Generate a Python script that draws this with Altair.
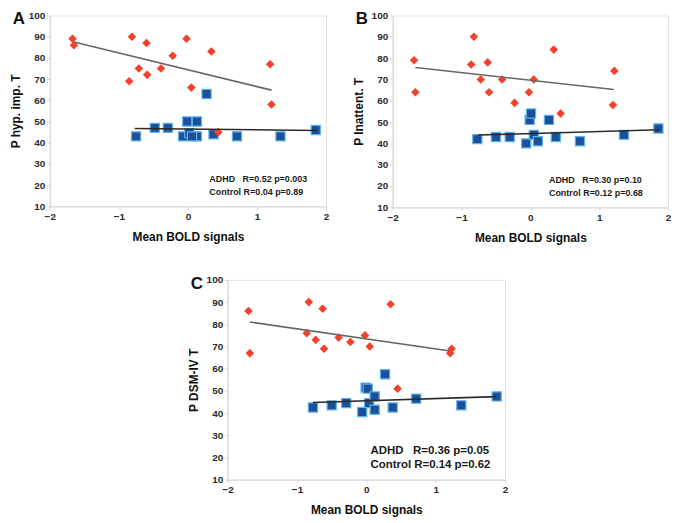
import altair as alt
import pandas as pd

# ---------------- data ----------------
# Panel A: P hyp. imp. T
A_adhd_x = [-1.67, -1.65, -0.81, -0.60, -0.85, -0.71, -0.59, -0.39, -0.22, -0.02, 0.05, 0.34, 1.19, 1.21, 0.44]
A_adhd_y = [89, 86, 90, 87, 69, 75, 72, 75, 81, 89, 66, 83, 77, 58, 45]
A_ctrl_x = [-0.75, -0.48, -0.29, -0.01, 0.13, -0.07, 0.02, 0.13, 0.27, 0.37, 0.71, 1.34, 1.85, 0.06]
A_ctrl_y = [43, 47, 47, 50, 50, 43, 44.5, 43, 63, 44, 43, 43, 46, 43]
A_adhd_fit_x = [-1.65, 1.21]
A_adhd_fit_y = [87.5, 64.8]
A_ctrl_fit_x = [-0.77, 1.87]
A_ctrl_fit_y = [46.7, 45.8]
A_stats = ["ADHD\u00a0\u00a0 R=0.52 p=0.003", "Control R=0.04 p=0.89"]

# Panel B: P Inattent. T
B_adhd_x = [-1.69, -1.67, -0.82, -0.86, -0.62, -0.72, -0.60, -0.41, -0.23, -0.02, 0.05, 0.34, 1.22, 1.20, 0.44]
B_adhd_y = [79, 64, 90, 77, 78, 70, 64, 70, 59, 64, 70, 84, 74, 58, 54]
B_ctrl_x = [-0.77, -0.50, -0.30, -0.06, -0.01, 0.01, 0.05, 0.11, 0.27, 0.37, 0.72, 1.36, 1.86]
B_ctrl_y = [42, 43, 43, 40, 51, 54, 44, 41, 51, 43, 41, 44, 47]
B_adhd_fit_x = [-1.67, 1.21]
B_adhd_fit_y = [75.6, 65.3]
B_ctrl_fit_x = [-0.76, 1.87]
B_ctrl_fit_y = [43.9, 46.4]
B_stats = ["ADHD\u00a0\u00a0 R=0.30 p=0.10", "Control R=0.12 p=0.68"]

# Panel C: P DSM-IV T
C_adhd_x = [-1.70, -1.68, -0.83, -0.63, -0.86, -0.73, -0.61, -0.40, -0.23, -0.02, 0.05, 0.35, 1.23, 1.21, 0.45]
C_adhd_y = [86, 67, 90, 87, 76, 73, 69, 74, 72, 75, 70, 89, 69, 67, 51]
C_ctrl_x = [-0.77, -0.50, -0.29, -0.06, -0.01, 0.02, 0.04, 0.12, 0.12, 0.27, 0.38, 0.72, 1.37, 1.88]
C_ctrl_y = [42.5, 43.5, 44.5, 40.5, 51.5, 51, 44.5, 41.5, 47.5, 57.5, 42.5, 46.5, 43.5, 47.5]
C_adhd_fit_x = [-1.68, 1.21]
C_adhd_fit_y = [81.0, 68.0]
C_ctrl_fit_x = [-0.77, 1.87]
C_ctrl_fit_y = [44.8, 47.4]
C_stats = ["ADHD\u00a0\u00a0 R=0.36 p=0.05", "Control R=0.14 p=0.62"]

x_ticks = [-2, -1, 0, 1, 2]
y_ticks = [10, 20, 30, 40, 50, 60, 70, 80, 90, 100]

FONT = "Liberation Sans"
RED = "#f5412b"
BLUE = "#1c4f9c"
BLUE_EDGE = "#5ab4e6"
LINE = "#666666"


def panel(letter, ytitle, ax, ay, cx, cy, afx, afy, cfx, cfy, stats, stats_x, stats_y, stats_size, w, h):
    xs = alt.Scale(domain=[-2, 2], nice=False, zero=False)
    ys = alt.Scale(domain=[10, 100], nice=False, zero=False)
    xenc = alt.X("x:Q", scale=xs,
                 axis=alt.Axis(values=x_ticks, title="Mean BOLD signals", format="d",
                               titlePadding=10, labelOverlap=False))
    yenc = alt.Y("y:Q", scale=ys,
                 axis=alt.Axis(values=y_ticks, title=ytitle, format="d", titlePadding=6,
                               labelOverlap=False, tickCount=10))

    adhd = alt.Chart(pd.DataFrame({"x": ax, "y": ay})).mark_point(
        shape="diamond", filled=True, color=RED, size=75, opacity=1
    ).encode(x=xenc, y=yenc)
    ctrl = alt.Chart(pd.DataFrame({"x": cx, "y": cy})).mark_point(
        shape="square", filled=True, fill=BLUE, stroke=BLUE_EDGE, strokeWidth=1.2,
        size=85, opacity=1
    ).encode(x=xenc, y=yenc)
    afit = alt.Chart(pd.DataFrame({"x": afx, "y": afy})).mark_line(
        color=LINE, strokeWidth=1.6
    ).encode(x=xenc, y=yenc)
    cfit = alt.Chart(pd.DataFrame({"x": cfx, "y": cfy})).mark_line(
        color="#2a2a2a", strokeWidth=1.6
    ).encode(x=xenc, y=yenc)
    txt = alt.Chart(pd.DataFrame({"x": [stats_x, stats_x], "y": stats_y, "t": stats})).mark_text(
        align="left", baseline="middle", font=FONT, fontWeight="bold",
        fontSize=stats_size, color="#1a1a1a"
    ).encode(x=xenc, y=yenc, text="t:N")
    lab = alt.Chart(pd.DataFrame({"t": [letter]})).mark_text(
        align="center", baseline="middle", font=FONT, fontWeight="bold",
        fontSize=17, color="#111111"
    ).encode(text="t:N", x=alt.value(-31), y=alt.value(4))
    return alt.layer(ctrl, adhd, afit, cfit, txt, lab).properties(width=w, height=h)


pA = panel("A", "P hyp. imp. T", A_adhd_x, A_adhd_y, A_ctrl_x, A_ctrl_y,
           A_adhd_fit_x, A_adhd_fit_y, A_ctrl_fit_x, A_ctrl_fit_y,
           A_stats, 0.31, [22.7, 16.8], 9, 278, 192)
pB = panel("B", "P Inattent. T", B_adhd_x, B_adhd_y, B_ctrl_x, B_ctrl_y,
           B_adhd_fit_x, B_adhd_fit_y, B_ctrl_fit_x, B_ctrl_fit_y,
           B_stats, 0.27, [22.7, 16.8], 9, 277, 193)
pC = panel("C", "P DSM-IV T", C_adhd_x, C_adhd_y, C_ctrl_x, C_ctrl_y,
           C_adhd_fit_x, C_adhd_fit_y, C_ctrl_fit_x, C_ctrl_fit_y,
           C_stats, 0.06, [23.0, 16.8], 11.5, 279, 201)

spacer = alt.Chart(pd.DataFrame({"x": [0], "y": [0]})).mark_point(opacity=0).encode(
    x=alt.X("x:Q", axis=None), y=alt.Y("y:Q", axis=None)
).properties(width=137, height=10, view=alt.ViewBackground(strokeOpacity=0))

top = alt.hconcat(pA, pB, spacing=21)
bottom = alt.hconcat(spacer, pC, spacing=0)
chart = alt.vconcat(top, bottom, spacing=30).properties(
    padding={"left": 0, "top": 0, "right": 0, "bottom": 0},
    background="white",
).configure_view(
    stroke="#e3e3e3", strokeWidth=1
).configure_axis(
    grid=False, domainColor="#d6d6d6", tickColor="#d6d6d6", tickSize=3,
    labelFont=FONT, labelFontWeight="bold", labelFontSize=10, labelColor="#2b2b2b",
    labelPadding=2, labelOverlap=False, labelFlush=False,
    titleFont=FONT, titleFontWeight="bold", titleFontSize=12, titleColor="#111111",
)

chart.save("out.html", embed_options={"renderer": "svg", "actions": False})
